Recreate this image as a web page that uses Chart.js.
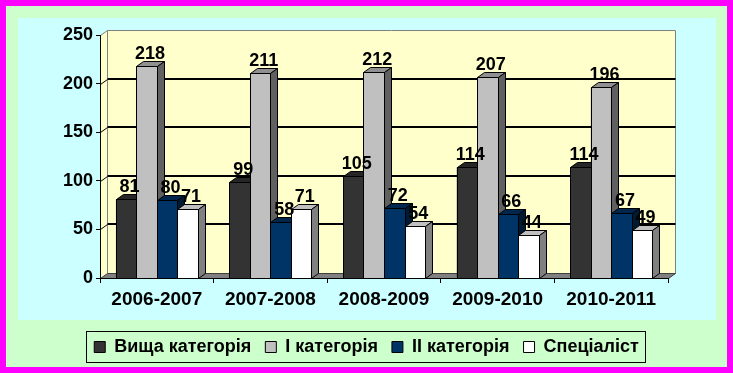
<!DOCTYPE html>
<html><head><meta charset="utf-8">
<script src="https://cdn.jsdelivr.net/npm/chart.js@4.4.0/dist/chart.umd.min.js"></script>
<style>html,body{margin:0;padding:0;background:#ff00ff;overflow:hidden}canvas{display:block}</style>
</head><body>
<canvas id="c" width="733" height="373"></canvas>
<script>
// ---- data ----
const categories = ['2006-2007', '2007-2008', '2008-2009', '2009-2010', '2010-2011'];
const seriesNames = ['Вища категорія', 'І категорія', 'ІІ категорія', 'Спеціаліст'];
const vyshchaValues = [81, 99, 105, 114, 114];
const firstCatValues = [218, 211, 212, 207, 196];
const secondCatValues = [80, 58, 72, 66, 67];
const specialistValues = [71, 71, 54, 44, 49];
const yTicks = [0, 50, 100, 150, 200, 250];

// ---- styles ----
const frontColors = ['#333333', '#c0c0c0', '#003366', '#ffffff'];
const topColors = ['#262626', '#909090', '#00264d', '#c0c0c0'];
const sideColors = ['#1a1a1a', '#606060', '#001a33', '#808080'];
const DX = 7, DY = 5;
const FONT = '"Liberation Sans", Arial, sans-serif';

const seriesValues = [vyshchaValues, firstCatValues, secondCatValues, specialistValues];

function poly(ctx, pts, fill, stroke) {
  ctx.beginPath();
  ctx.moveTo(pts[0][0], pts[0][1]);
  for (let i = 1; i < pts.length; i++) ctx.lineTo(pts[i][0], pts[i][1]);
  ctx.closePath();
  if (fill) { ctx.fillStyle = fill; ctx.fill(); }
  if (stroke) { ctx.strokeStyle = stroke; ctx.lineWidth = 1; ctx.stroke(); }
}
const r = v => Math.round(v) + 0.5;

const scene = {
  id: 'scene',
  beforeDraw(chart) {
    const ctx = chart.ctx, a = chart.chartArea, ys = chart.scales.y;
    ctx.save();
    ctx.fillStyle = '#ff00ff'; ctx.fillRect(0, 0, 733, 373);
    ctx.fillStyle = '#ccffcc'; ctx.fillRect(6, 6, 721, 361);
    ctx.fillStyle = '#ccffff'; ctx.fillRect(18, 18, 698, 302);
    const L = r(a.left), R = r(a.right), T = r(a.top), B = r(a.bottom);
    // left wall
    poly(ctx, [[L, T], [L + DX, T - DY], [L + DX, B - DY], [L, B]], '#ffffcc', null);
    // back wall
    poly(ctx, [[L + DX, T - DY], [R + DX, T - DY], [R + DX, B - DY], [L + DX, B - DY]], '#ffffcc', '#808080');
    ctx.beginPath(); ctx.moveTo(L, T); ctx.lineTo(L + DX, T - DY);
    ctx.strokeStyle = '#808080'; ctx.lineWidth = 1; ctx.stroke();
    // gridlines on back wall
    yTicks.forEach(v => {
      if (v === 0 || v === 250) return;
      const py = Math.round(ys.getPixelForValue(v));
      ctx.beginPath();
      ctx.moveTo(L + DX, py - DY); ctx.lineTo(R + DX, py - DY);
      ctx.strokeStyle = '#000'; ctx.lineWidth = 2; ctx.stroke();
      ctx.beginPath();
      ctx.moveTo(L, py + 0.5); ctx.lineTo(L + DX, py - DY + 0.5);
      ctx.lineWidth = 1; ctx.stroke();
    });
    // floor
    poly(ctx, [[L, B], [R, B], [R + DX, B - DY], [L + DX, B - DY]], '#808080', '#404040');
    ctx.restore();
  },
  afterDatasetsDraw(chart) {
    const ctx = chart.ctx;
    ctx.save();
    const n = chart.data.labels.length;
    for (let i = 0; i < n; i++) {
      chart.data.datasets.forEach((ds, d) => {
        const el = chart.getDatasetMeta(d).data[i];
        const x0 = r(el.x - el.width / 2), x1 = r(el.x + el.width / 2);
        const t = r(el.y), b = r(el.base);
        poly(ctx, [[x0, t], [x1, t], [x1, b], [x0, b]], frontColors[d], '#000');
        poly(ctx, [[x0, t], [x0 + DX, t - DY], [x1 + DX, t - DY], [x1, t]], topColors[d], '#000');
        poly(ctx, [[x1, t], [x1 + DX, t - DY], [x1 + DX, b - DY], [x1, b]], sideColors[d], '#000');
      });
    }
    // value labels
    ctx.fillStyle = '#000';
    ctx.font = 'bold 18px ' + FONT;
    ctx.textAlign = 'center';
    ctx.textBaseline = 'alphabetic';
    chart.data.datasets.forEach((ds, d) => {
      chart.getDatasetMeta(d).data.forEach((el, i) => {
        ctx.fillText(String(ds.data[i]), el.x + DX / 2, el.y - DY - 2);
      });
    });
    ctx.restore();
  },
  afterDraw(chart) {
    const lg = chart.legend;
    if (!lg || !lg.legendHitBoxes.length) return;
    const hb = lg.legendHitBoxes;
    const first = hb[0], last = hb[hb.length - 1];
    const ctx = chart.ctx;
    ctx.save();
    ctx.strokeStyle = '#000'; ctx.lineWidth = 1;
    const left = Math.round(first.left - 8) + 0.5;
    const right = Math.round(last.left + last.width + 6) + 0.5;
    const cy = first.top + first.height / 2;
    ctx.strokeRect(left, Math.round(cy - 16) + 0.5, right - left, 31);
    ctx.restore();
  }
};

const datasets = seriesNames.map((name, d) => ({
  label: name,
  data: seriesValues[d],
  backgroundColor: frontColors[d],
  borderColor: '#000',
  borderWidth: 1,
  barPercentage: 1,
  categoryPercentage: 0.722
}));

new Chart(document.getElementById('c'), {
  type: 'bar',
  data: { labels: categories, datasets },
  plugins: [scene],
  options: {
    responsive: false,
    animation: false,
    devicePixelRatio: 1,
    layout: { padding: { left: 0, right: 0, top: 35, bottom: 7 } },
    plugins: {
      tooltip: { enabled: false },
      legend: {
        position: 'bottom',
        labels: {
          boxWidth: 11, boxHeight: 11, padding: 14, color: '#000',
          font: { family: FONT, size: 18, weight: 'bold' }
        }
      }
    },
    scales: {
      x: {
        grid: { offset: true, drawOnChartArea: false, drawTicks: true, tickLength: 5, color: '#000' },
        border: { display: true, color: '#000' },
        ticks: { color: '#000', padding: 5, font: { family: FONT, size: 19, weight: 'bold' }, maxRotation: 0 },
        afterFit(s) { s.height = 46; }
      },
      y: {
        min: 0, max: 250,
        afterBuildTicks(s) { s.ticks = yTicks.map(v => ({ value: v })); },
        grid: { drawOnChartArea: false, drawTicks: true, tickLength: 4, color: '#000' },
        border: { display: true, color: '#000' },
        ticks: { color: '#000', padding: 3, font: { family: FONT, size: 18, weight: 'bold' } },
        afterFit(s) { s.width = 100; }
      },
      yR: {
        position: 'right',
        display: true,
        ticks: { display: false },
        grid: { display: false },
        border: { display: false },
        afterFit(s) { s.width = 65; }
      }
    }
  }
});
</script>
</body></html>
